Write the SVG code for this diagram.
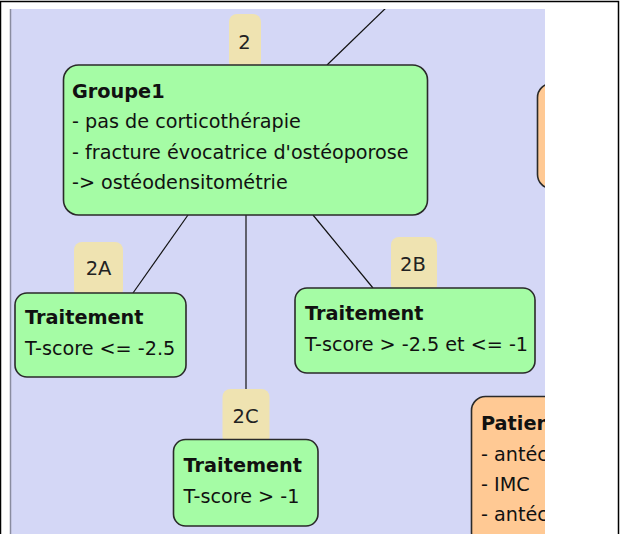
<svg xmlns="http://www.w3.org/2000/svg" width="621" height="534" viewBox="0 0 621 534">
<style>
.node{stroke:#2a2a2a;stroke-width:1.6}
.g{fill:#a5fca5}
.o{fill:#ffc994}
.lab{fill:#efe3b1}
.t{font-family:"DejaVu Sans",sans-serif;font-weight:bold;font-size:19.3px;fill:#111}
.b{font-family:"DejaVu Sans",sans-serif;font-size:19.2px;fill:#111}
.l{font-family:"DejaVu Sans",sans-serif;font-size:19.5px;fill:#222;text-anchor:middle}
.c{stroke:#111;stroke-width:1.2;fill:none}
</style>
<defs>
<clipPath id="panel"><rect x="10" y="9" width="535" height="525"/></clipPath>
</defs>
<rect x="0" y="0" width="621" height="534" fill="#ffffff"/>
<path d="M0.5 534V1.5H618.5V534" fill="none" stroke="#000" stroke-width="1.5"/>
<rect x="10" y="9" width="535" height="525" fill="#d4d7f6"/>
<line x1="10.5" y1="9" x2="10.5" y2="534" stroke="#8a8ca0" stroke-width="1.5"/>
<g clip-path="url(#panel)">
<g id="connectors">
<line class="c" x1="389" y1="5" x2="327" y2="65"/>
<line class="c" x1="188" y1="215" x2="133" y2="293"/>
<line class="c" x1="313" y1="215" x2="373" y2="288"/>
<line class="c" x1="246" y1="215" x2="246" y2="390"/>
</g>
<g id="label2"><rect class="lab" x="229" y="14" width="32" height="56" rx="8"/><text class="l" x="244.5" y="48.5">2</text></g>
<g id="label2A"><rect class="lab" x="74" y="242" width="49" height="56" rx="8"/><text class="l" x="98.5" y="275">2A</text></g>
<g id="label2B"><rect class="lab" x="391" y="237" width="46" height="56" rx="8"/><text class="l" x="413" y="270.5">2B</text></g>
<g id="label2C"><rect class="lab" x="222.5" y="389" width="47" height="56" rx="8"/><text class="l" x="245.5" y="422.5">2C</text></g>
<g id="groupe1">
<rect class="node g" x="63.5" y="65" width="364" height="150" rx="15"/>
<text class="t" x="72" y="97.5">Groupe1</text>
<text class="b" x="72" y="128">- pas de corticothérapie</text>
<text class="b" x="72" y="158.7">- fracture évocatrice d'ostéoporose</text>
<text class="b" x="72" y="189.3">-&gt; ostéodensitométrie</text>
</g>
<g id="traitement2A">
<rect class="node g" x="15" y="293" width="171" height="84" rx="12"/>
<text class="t" x="25" y="323.5">Traitement</text>
<text class="b" x="25" y="355">T-score &lt;= -2.5</text>
</g>
<g id="traitement2B">
<rect class="node g" x="295" y="288" width="240" height="85" rx="12"/>
<text class="t" x="305" y="320">Traitement</text>
<text class="b" x="305" y="351">T-score &gt; -2.5 et &lt;= -1</text>
</g>
<g id="traitement2C">
<rect class="node g" x="173.5" y="439.5" width="144.5" height="86.5" rx="12"/>
<text class="t" x="183.5" y="471.5">Traitement</text>
<text class="b" x="183.5" y="502.7">T-score &gt; -1</text>
</g>
<g id="orangeTop">
<rect class="node o" x="537.5" y="83.5" width="120" height="105" rx="14"/>
</g>
<g id="patient">
<rect class="node o" x="471.5" y="396.5" width="160" height="150" rx="14"/>
<text class="t" x="481" y="429.5">Patien</text>
<text class="b" x="481" y="461">- antéc</text>
<text class="b" x="481" y="491">- IMC</text>
<text class="b" x="481" y="521">- antéc</text>
</g>
</g>
</svg>
